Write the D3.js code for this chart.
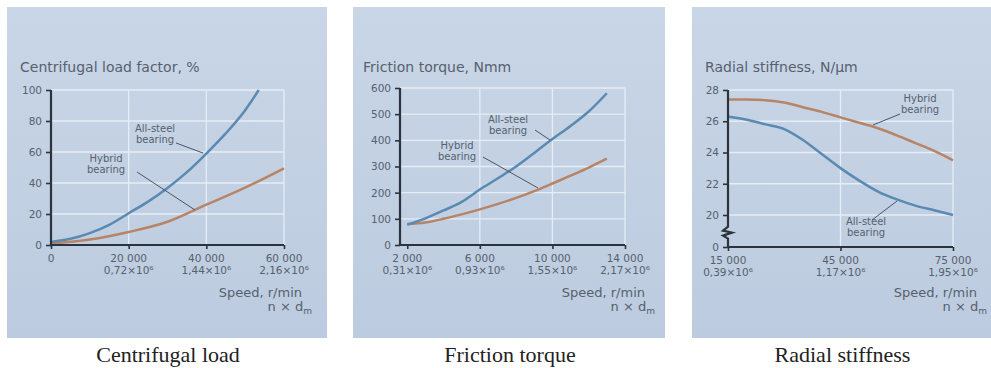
<!DOCTYPE html>
<html>
<head>
<meta charset="utf-8">
<script src="https://cdn.jsdelivr.net/npm/d3@7"></script>
<style>
  body { margin: 0; background: #fff; }
  svg { display: block; }
  .tick-lbl, .axis-ttl, .ttl, .lbl { font-family: "DejaVu Sans", sans-serif; fill: #56616d; }
  .cap { font-family: "Liberation Serif", serif; fill: #222; font-size: 22px; }
</style>
</head>
<body>
<div id="chart"></div>
<script>
// ---- data ----
// centrifugal load factor, %
const cfSpeed  = [0, 5000, 10000, 15000, 20000, 25000, 30000, 35000, 40000, 45000, 50000, 53500];
const cfSteel  = [2, 4, 7.7, 13, 20.5, 28, 36.8, 47, 59, 72, 87, 100];
const cfSpeedH = [0, 10000, 20000, 30000, 40000, 50000, 60000];
const cfHybrid = [1, 3.5, 8.4, 15, 26, 37, 49.5];
const cfXTicks = [0, 20000, 40000, 60000];
const cfXLabels = [["0", ""], ["20 000", "0,72×10⁶"], ["40 000", "1,44×10⁶"], ["60 000", "2,16×10⁶"]];
const cfYTicks = [0, 20, 40, 60, 80, 100];

// friction torque, Nmm
const ftSpeed  = [2000, 3000, 4000, 5000, 6000, 7000, 8000, 9000, 10000, 11000, 12000, 13000];
const ftSteel  = [78, 102, 132, 165, 212, 255, 300, 352, 405, 455, 510, 580];
const ftHybrid = [80, 86, 100, 117, 136, 157, 180, 206, 235, 265, 296, 330];
const ftXTicks = [2000, 6000, 10000, 14000];
const ftXLabels = [["2 000", "0,31×10⁶"], ["6 000", "0,93×10⁶"], ["10 000", "1,55×10⁶"], ["14 000", "2,17×10⁶"]];
const ftYTicks = [0, 100, 200, 300, 400, 500, 600];

// radial stiffness, N/um
const rsSpeed  = [15000, 20000, 25000, 30000, 35000, 40000, 45000, 50000, 55000, 60000, 65000, 70000, 75000];
const rsSteel  = [26.3, 26.1, 25.8, 25.5, 24.8, 23.9, 23.0, 22.2, 21.5, 21.0, 20.6, 20.3, 20.0];
const rsHybrid = [27.4, 27.4, 27.35, 27.2, 26.9, 26.6, 26.25, 25.9, 25.55, 25.1, 24.6, 24.1, 23.5];
const rsXTicks = [15000, 45000, 75000];
const rsXLabels = [["15 000", "0,39×10⁶"], ["45 000", "1,17×10⁶"], ["75 000", "1,95×10⁶"]];
const rsYTicks = [0, 20, 22, 24, 26, 28];

const titles = ["Centrifugal load factor, %", "Friction torque, Nmm", "Radial stiffness, N/µm"];
const captions = ["Centrifugal load", "Friction torque", "Radial stiffness"];

const steelCol = "#5a8ab2", hybridCol = "#b88466", axisCol = "#2b333c";

const svg = d3.select("#chart").append("svg")
  .attr("width", 991).attr("height", 368);

const grad = svg.append("defs").append("linearGradient")
  .attr("id", "bg").attr("x1", 0).attr("y1", 0).attr("x2", 0).attr("y2", 1);
grad.append("stop").attr("offset", "0%").attr("stop-color", "#c9d6e7");
grad.append("stop").attr("offset", "100%").attr("stop-color", "#bccbdf");

const panels = [
  { box: [7, 7, 320, 331], title: titles[0], cap: captions[0], tx: 20,
    x: d3.scaleLinear().domain([0, 60000]).range([51, 284]),
    y: d3.scaleLinear().domain([0, 100]).range([245, 90]),
    xt: cfXTicks, xl: cfXLabels, yt: cfYTicks, xGrid: [20000, 40000, 60000],
    steel: d3.zip(cfSpeed, cfSteel), hybrid: d3.zip(cfSpeedH, cfHybrid),
    speedR: 302,
    labels: [
      { t: ["All-steel", "bearing"], x: 155, y: 132, lead: [[176, 143], [203, 153]] },
      { t: ["Hybrid", "bearing"], x: 106, y: 162, lead: [[137, 172], [195, 210]] }
    ] },
  { box: [353, 7, 312, 331], title: titles[1], cap: captions[1], tx: 363,
    x: d3.scaleLinear().domain([1600, 14000]).range([400, 625]),
    y: d3.scaleLinear().domain([0, 600]).range([245, 88]),
    xt: ftXTicks, xl: ftXLabels, yt: ftYTicks, xGrid: [6000, 10000, 14000],
    steel: d3.zip(ftSpeed, ftSteel), hybrid: d3.zip(ftSpeed, ftHybrid),
    speedR: 645,
    labels: [
      { t: ["All-steel", "bearing"], x: 508, y: 123, lead: [[535, 130], [550, 140]] },
      { t: ["Hybrid", "bearing"], x: 457, y: 149, lead: [[483, 157], [538, 188]] }
    ] },
  { box: [692, 7, 299, 331], title: titles[2], cap: captions[2], tx: 705,
    x: d3.scaleLinear().domain([15000, 75000]).range([728, 953]),
    y: d3.scaleLinear().domain([0, 20, 28]).range([247, 215, 90]),
    xt: rsXTicks, xl: rsXLabels, yt: rsYTicks, xGrid: [45000, 75000], yGridMin: 20,
    steel: d3.zip(rsSpeed, rsSteel), hybrid: d3.zip(rsSpeed, rsHybrid),
    speedR: 977, brk: true,
    labels: [
      { t: ["Hybrid", "bearing"], x: 920, y: 102, lead: [[900, 114], [873, 125]] },
      { t: ["All-steel", "bearing"], x: 866, y: 225, lead: [[872, 220], [897, 201]] }
    ] }
];

panels.forEach(p => {
  const g = svg.append("g");
  const [bx, by, bw, bh] = p.box;
  g.append("rect").attr("x", bx).attr("y", by).attr("width", bw).attr("height", bh)
    .attr("fill", "url(#bg)");

  const x0 = p.x.range()[0], x1 = p.x.range()[p.x.range().length - 1];
  const yBot = p.y.range()[0], yTop = p.y.range()[p.y.range().length - 1];

  // grid
  p.yt.filter(v => v > (p.yGridMin !== undefined ? p.yGridMin - 1 : 0)).forEach(v => {
    g.append("line").attr("x1", x0).attr("x2", x1).attr("y1", p.y(v)).attr("y2", p.y(v))
      .attr("stroke", "#e6edf6").attr("stroke-width", 1.3);
  });
  p.xGrid.forEach(v => {
    g.append("line").attr("x1", p.x(v)).attr("x2", p.x(v)).attr("y1", yTop).attr("y2", yBot)
      .attr("stroke", "#e6edf6").attr("stroke-width", 1.3);
  });

  // curves
  const line = d3.line().x(d => p.x(d[0])).y(d => p.y(d[1])).curve(d3.curveMonotoneX);
  g.append("path").attr("d", line(p.hybrid)).attr("fill", "none")
    .attr("stroke", hybridCol).attr("stroke-width", 2.5);
  g.append("path").attr("d", line(p.steel)).attr("fill", "none")
    .attr("stroke", steelCol).attr("stroke-width", 2.5);

  // axes
  const yAxis = d3.axisLeft(p.y).tickValues(p.yt).tickSize(5).tickPadding(4);
  const ya = g.append("g").attr("transform", "translate(" + x0 + ",0)").call(yAxis);
  const xAxis = d3.axisBottom(p.x).tickValues(p.xt).tickSize(4).tickFormat("");
  const xa = g.append("g").attr("transform", "translate(0," + yBot + ")").call(xAxis);
  [ya, xa].forEach(a => {
    a.select(".domain").remove();
    a.selectAll(".tick line").attr("stroke", axisCol).attr("stroke-width", 1.6);
  });
  ya.selectAll(".tick text").attr("class", "tick-lbl").attr("font-size", 10.5)
    .attr("font-family", null).attr("fill", null);

  if (p.brk) {
    const yb = p.y(9);
    g.append("path").attr("d",
      "M" + x0 + "," + yTop + "V" + (yb - 6) + "l-5,4l9,2l-9,3l5,3V" + yBot + "H" + x1)
      .attr("fill", "none").attr("stroke", axisCol).attr("stroke-width", 2.2);
  } else {
    g.append("path").attr("d", "M" + x0 + "," + yTop + "V" + yBot + "H" + x1)
      .attr("fill", "none").attr("stroke", axisCol).attr("stroke-width", 2.2);
  }

  // x tick labels, two lines
  p.xt.forEach((v, i) => {
    const t = g.append("text").attr("class", "tick-lbl").attr("font-size", 10.5)
      .attr("text-anchor", "middle").attr("x", p.x(v)).attr("y", yBot + 17);
    t.append("tspan").attr("x", p.x(v)).text(p.xl[i][0]);
    if (p.xl[i][1]) t.append("tspan").attr("x", p.x(v)).attr("dy", 12).text(p.xl[i][1]);
  });

  // title
  g.append("text").attr("class", "ttl").attr("font-size", 14)
    .attr("x", p.tx).attr("y", 72).text(p.title);

  // axis title
  g.append("text").attr("class", "axis-ttl").attr("font-size", 13)
    .attr("text-anchor", "end").attr("x", p.speedR).attr("y", 297).text("Speed, r/min");
  const nd = g.append("text").attr("class", "axis-ttl").attr("font-size", 13)
    .attr("text-anchor", "end").attr("x", p.speedR + 10).attr("y", 311);
  nd.append("tspan").text("n × d");
  nd.append("tspan").attr("font-size", 9).attr("dy", 3).text("m");

  // curve labels with leaders
  p.labels.forEach(l => {
    const t = g.append("text").attr("class", "lbl").attr("font-size", 10)
      .attr("text-anchor", "middle").attr("x", l.x).attr("y", l.y);
    t.append("tspan").attr("x", l.x).text(l.t[0]);
    t.append("tspan").attr("x", l.x).attr("dy", 11).text(l.t[1]);
    g.append("line").attr("x1", l.lead[0][0]).attr("y1", l.lead[0][1])
      .attr("x2", l.lead[1][0]).attr("y2", l.lead[1][1])
      .attr("stroke", "#4b5662").attr("stroke-width", 1);
  });

  // caption
  svg.append("text").attr("class", "cap").attr("text-anchor", "middle")
    .attr("x", bx + bw / 2 + 1).attr("y", 362).text(p.cap);
});
</script>
</body>
</html>
